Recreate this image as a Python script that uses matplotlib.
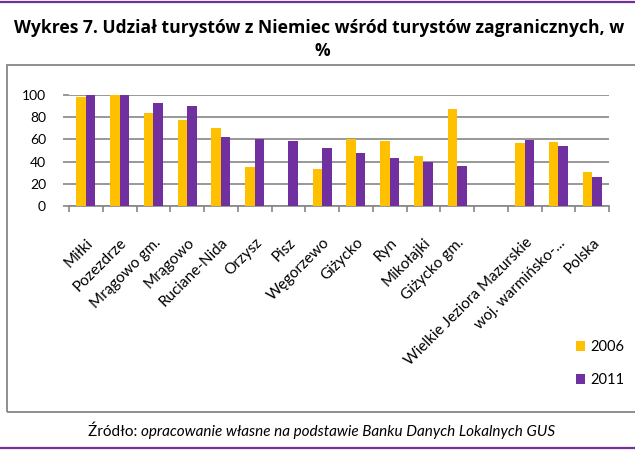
import numpy as np
import matplotlib
matplotlib.use("Agg")
import matplotlib.pyplot as plt
from matplotlib.patches import Rectangle, Patch
from matplotlib.lines import Line2D
from matplotlib.transforms import ScaledTranslation

plt.rcParams["font.family"] = ["Lato", "DejaVu Sans"]

# dane
kategorie = ["Miłki", "Pozezdrze", "Mrągowo gm.", "Mrągowo", "Ruciane-Nida",
             "Orzysz", "Pisz", "Węgorzewo", "Giżycko", "Ryn", "Mikołajki",
             "Giżycko gm.", "", "Wielkie Jeziora Mazurskie",
             "woj. warmińsko-...", "Polska"]
udzial_2006 = [98.5, 100, 83.5, 77.5, 70, 35, 0, 33, 60, 58.3, 45.3, 87.4,
               np.nan, 56.5, 57.7, 30.4]
udzial_2011 = [100, 100, 92.5, 90.4, 61.9, 60, 58.8, 52, 47.7, 43, 39.6,
               35.8, np.nan, 59.5, 54.3, 26]
lata = ["2006", "2011"]
y_ticks = [0, 20, 40, 60, 80, 100]

kol_2006 = "#FFC000"
kol_2011 = "#7030A0"
szary = "#868686"

W, H = 635, 450
fig = plt.figure(figsize=(W / 100, H / 100), dpi=100)

# ramka wykresu i linie
fig.patches.append(Rectangle((7 / W, 1 - 412 / H), 640 / W, 347 / H,
                             transform=fig.transFigure, fill=False,
                             edgecolor=szary, linewidth=1.3))
fig.lines.append(Line2D([0, 1], [1 - 1.5 / H] * 2, transform=fig.transFigure,
                        color=kol_2011, linewidth=1.6))
fig.lines.append(Line2D([0, 1], [1 - 448 / H] * 2, transform=fig.transFigure,
                        color=kol_2011, linewidth=1.6))

ax = fig.add_axes([69 / W, 1 - 206 / H, 540 / W, 111 / H])
x = np.arange(len(kategorie))
w = 0.28
ax.bar(x - w / 2, udzial_2006, w, color=kol_2006, label=lata[0], zorder=3)
ax.bar(x + w / 2, udzial_2011, w, color=kol_2011, label=lata[1], zorder=3)

ax.set_xlim(-0.5, len(kategorie) - 0.5)
ax.set_ylim(0, 100)
ax.set_yticks(y_ticks)
ax.yaxis.grid(True, color=szary, linewidth=1.2, zorder=0)
ax.tick_params(axis="y", length=4.5, width=1.2, color=szary, pad=12,
               labelsize=10)
for s in ["top", "right", "left"]:
    ax.spines[s].set_visible(False)
ax.spines["bottom"].set_color(szary)
ax.spines["bottom"].set_linewidth(1.2)

ax.set_xticks(x)
ax.set_xticklabels(kategorie, rotation=45, ha="right", va="center",
                   rotation_mode="anchor", fontsize=11)
ax.set_xticks(np.arange(-0.5, len(kategorie)), minor=True)
ax.tick_params(axis="x", which="major", length=0, pad=25)
ax.tick_params(axis="x", which="minor", length=4, width=1.2, color=szary)
for lbl in ax.get_xticklabels():
    lbl.set_transform(lbl.get_transform() +
                      ScaledTranslation(5 / 100, 0, fig.dpi_scale_trans))

fig.text(319 / W, 1 - 28 / H,
         "Wykres 7. Udział turystów z Niemiec wśród turystów zagranicznych, w",
         ha="center", va="center", fontsize=12.6, fontweight="bold",
         family=["Open Sans", "DejaVu Sans"])
fig.text(322 / W, 1 - 51 / H, "%", ha="center", va="center", fontsize=12.6,
         fontweight="bold", family=["Open Sans", "DejaVu Sans"])

uchwyty = [Patch(facecolor=kol_2006), Patch(facecolor=kol_2011)]
fig.legend(uchwyty, lata, loc="upper left",
           bbox_to_anchor=(576 / W, 1 - 340 / H), frameon=False,
           fontsize=10.5, handlelength=0.65, handleheight=0.65,
           handletextpad=0.35, labelspacing=1.3, borderpad=0,
           borderaxespad=0)

t1 = fig.text(88 / W, 1 - 432 / H, "Źródło: ", ha="left", va="center",
              fontsize=11)
fig.canvas.draw()
bb = t1.get_window_extent()
fig.text(bb.x1 / W, 1 - 432 / H,
         "opracowanie własne na podstawie Banku Danych Lokalnych GUS",
         ha="left", va="center", fontsize=11, style="italic")

fig.savefig("out.png", dpi=100)
